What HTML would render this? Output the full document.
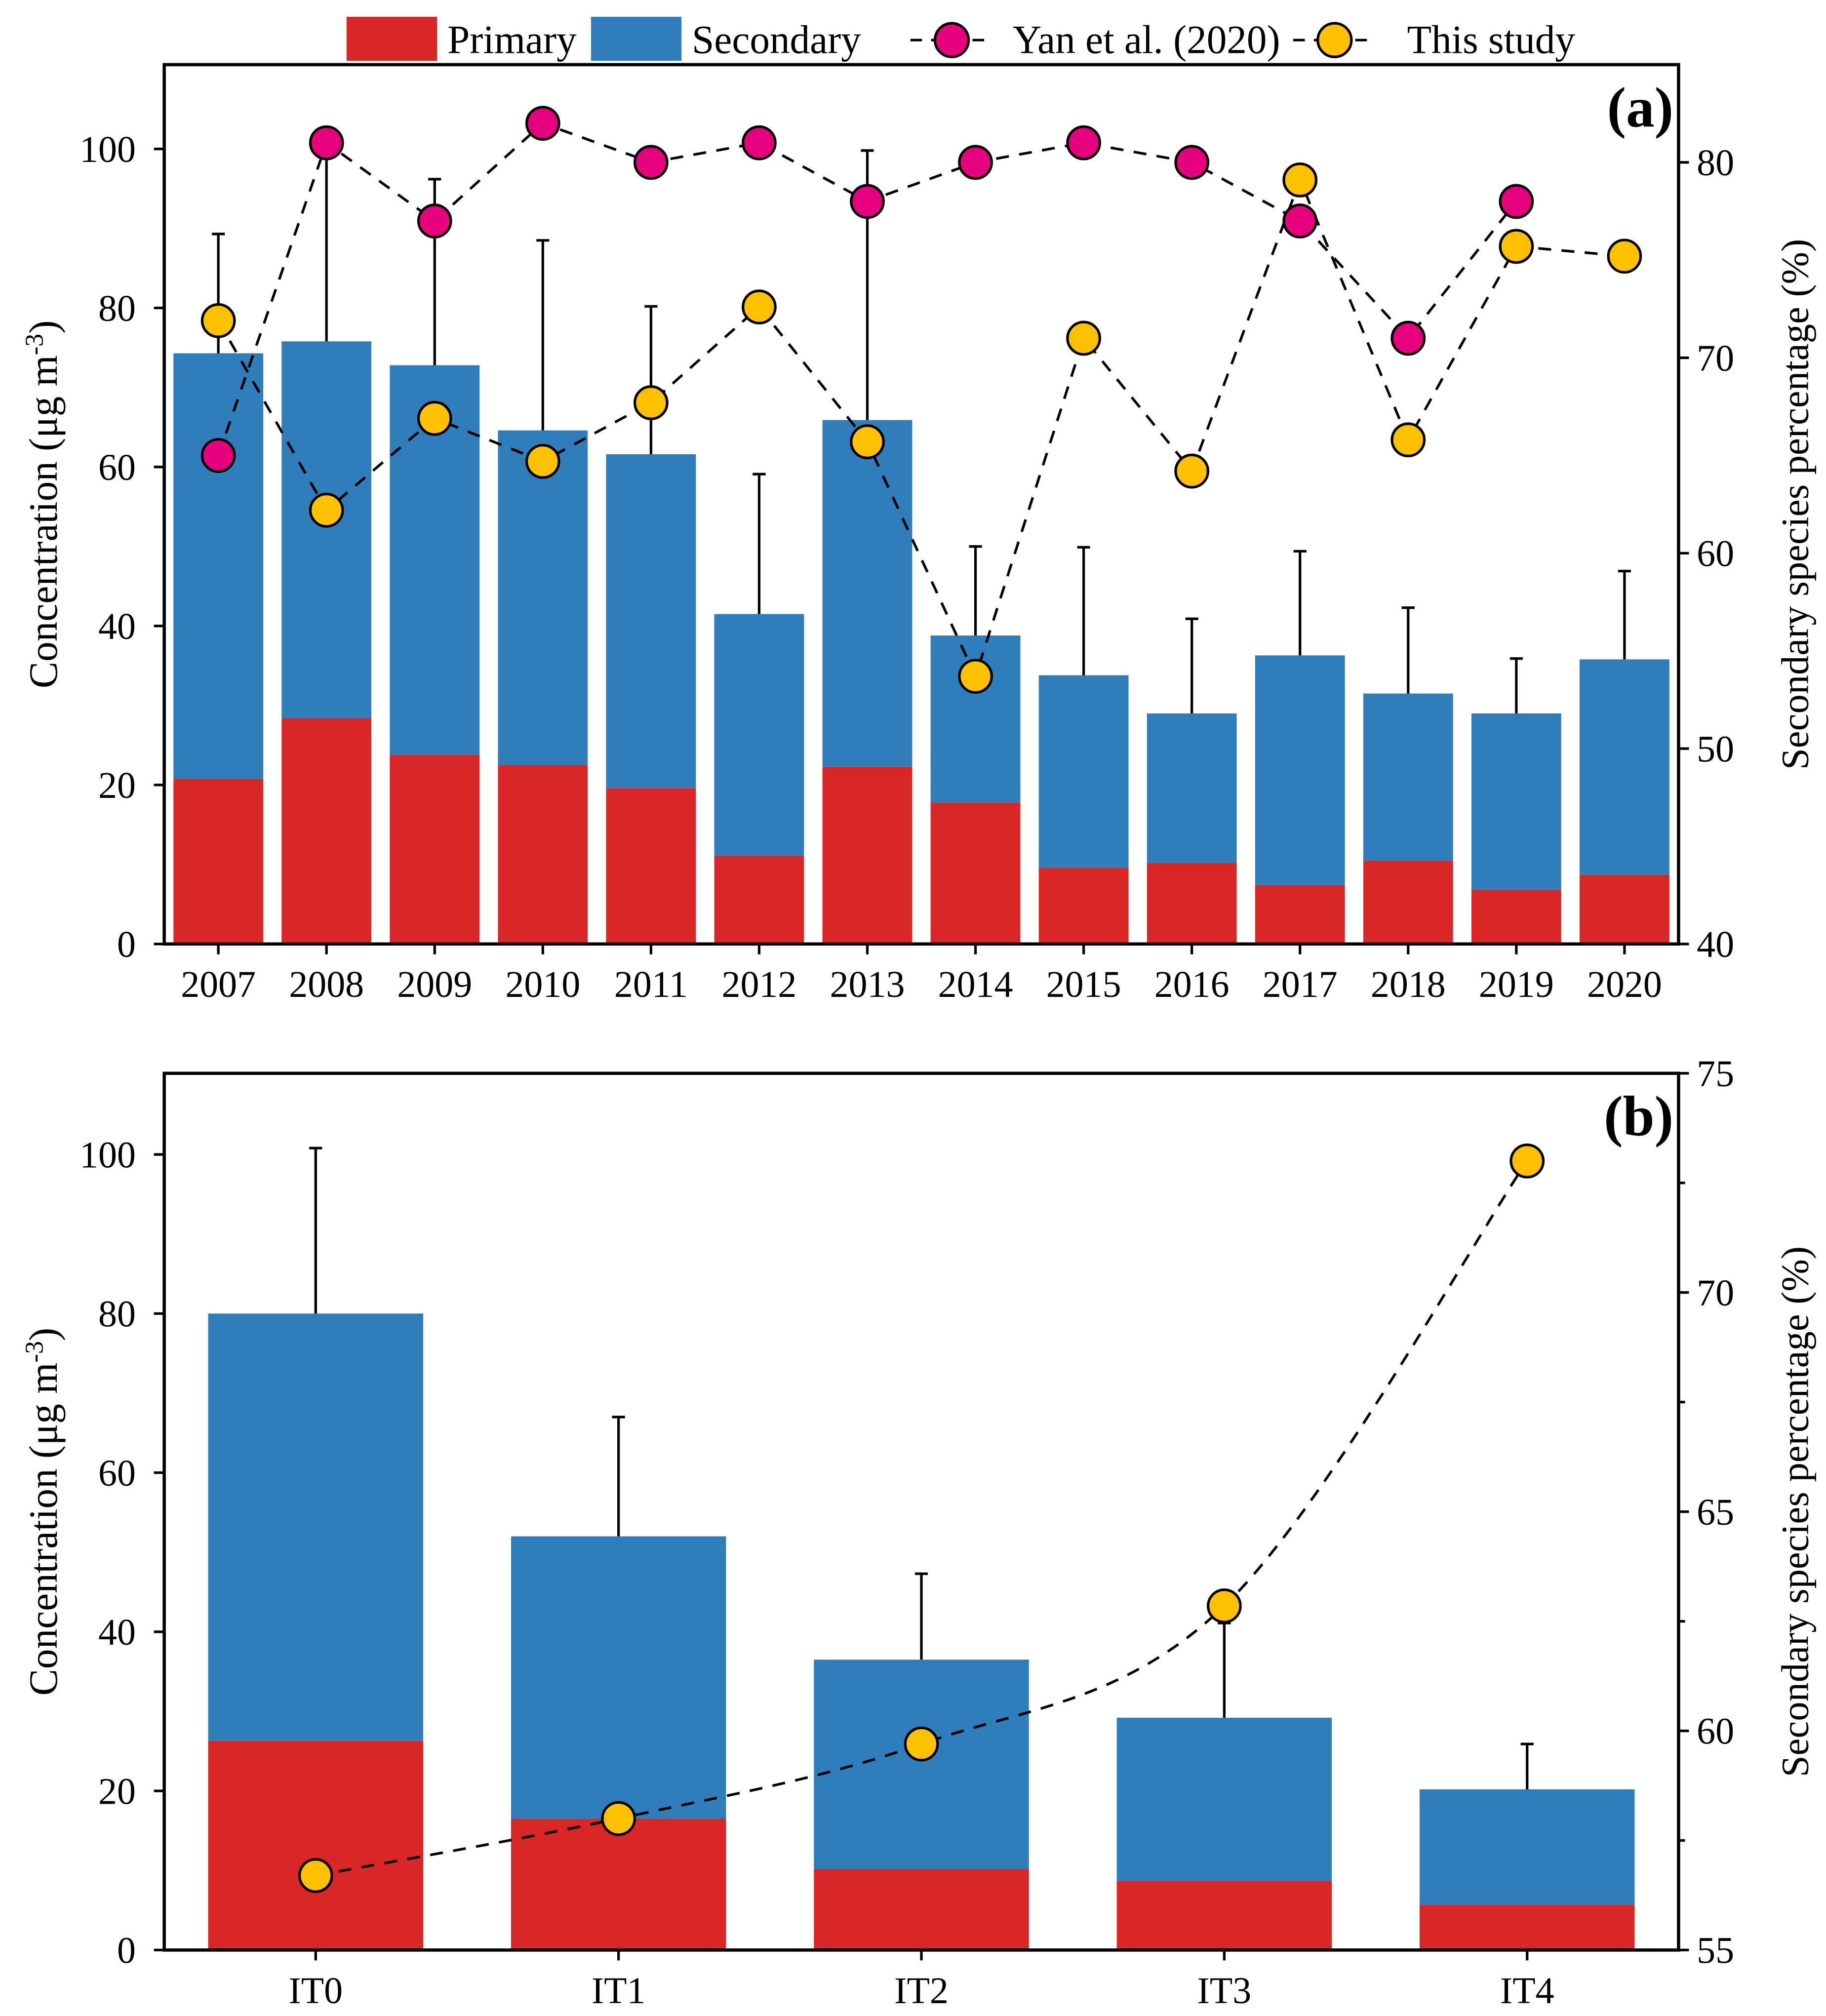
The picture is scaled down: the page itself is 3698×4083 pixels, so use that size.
<!DOCTYPE html>
<html><head><meta charset="utf-8"><style>
html,body{margin:0;padding:0;background:#fff}
svg{display:block}
text{font-family:"Liberation Serif",serif;fill:#000}
</style></head><body>
<svg id="chart" width="3698" height="4083" viewBox="0 0 1412 1559" xmlns="http://www.w3.org/2000/svg">
<g id="legend">
<rect x="268" y="13" width="70" height="34" fill="#d92626"/>
<text x="346" y="41" font-size="31">Primary</text>
<rect x="457" y="13" width="70" height="34" fill="#2f7ebb"/>
<text x="535" y="41" font-size="31">Secondary</text>
<line x1="704" y1="31" x2="768" y2="31" stroke="#000" stroke-width="2" stroke-dasharray="9,7"/>
<circle cx="736" cy="31" r="13" fill="#e6007e" stroke="#000" stroke-width="2"/>
<text x="783" y="41" font-size="31">Yan et al. (2020)</text>
<line x1="1000" y1="31" x2="1064" y2="31" stroke="#000" stroke-width="2" stroke-dasharray="9,7"/>
<circle cx="1032" cy="31" r="13" fill="#ffc000" stroke="#000" stroke-width="2"/>
<text x="1088" y="41" font-size="31">This study</text>
</g>
</svg>
<script>
const yearsA = ['2007','2008','2009','2010','2011','2012','2013','2014','2015','2016','2017','2018','2019','2020'];
const totalA = [74.3,75.8,72.8,64.6,61.6,41.5,65.9,38.8,33.8,29.0,36.3,31.5,29.0,35.8];
const primaryA = [20.8,28.4,23.8,22.5,19.6,11.1,22.3,17.8,9.6,10.2,7.4,10.5,6.8,8.7];
const errTopA = [89.3,101,96.2,88.5,80.2,59.1,99.8,50.0,49.9,40.9,49.4,42.3,35.9,46.9];
const yanPctA = [65.0,81.0,77.0,82.0,80.0,81.0,78.0,80.0,81.0,80.0,77.0,71.0,78.0,null];
const studyPctA = [71.9,62.2,66.9,64.7,67.7,72.6,65.7,53.7,71.0,64.2,79.1,65.8,75.7,75.2];
const leftTicksA = [0,20,40,60,80,100];
const rightTicksA = [40,50,60,70,80];

const catsB = ['IT0','IT1','IT2','IT3','IT4'];
const totalB = [80.0,52.0,36.5,29.2,20.2];
const primaryB = [26.3,16.5,10.2,8.7,5.7];
const errTopB = [100.8,67.0,47.3,41.1,25.9];
const studyPctB = [56.7,58.0,59.7,62.85,73.0];
const leftTicksB = [0,20,40,60,80,100];
const rightTicksB = [55,60,65,70,75];

const NS='http://www.w3.org/2000/svg';
const svg=document.getElementById('chart');
function mk(tag,attrs,parent){const e=document.createElementNS(NS,tag);for(const k in attrs)e.setAttribute(k,attrs[k]);(parent||svg).appendChild(e);return e;}

function panel(cfg){
  const g=mk('g',{});
  
  
  const {L,R,T,B}=cfg;
  const yL=v=>B-(v-0)/(cfg.lmax)*(B-T);
  const yR=v=>B-(v-cfg.rmin)/(cfg.rmax-cfg.rmin)*(B-T);
  const step=(R-L)/cfg.cats.length;
  const xc=i=>L+step*(i+0.5);
  const bw=step*cfg.bwf;
  cfg.cats.forEach((c,i)=>{
    const s=mk('rect',{x:xc(i)-bw/2,y:yL(cfg.total[i]),width:bw,height:yL(cfg.primary[i])-yL(cfg.total[i]),fill:'#2f7ebb'},g);
    
    
    const p=mk('rect',{x:xc(i)-bw/2,y:yL(cfg.primary[i]),width:bw,height:B-yL(cfg.primary[i]),fill:'#d92626'},g);
    
    
    const e=mk('path',{d:`M${xc(i)},${yL(cfg.total[i])}V${yL(cfg.errTop[i])}M${xc(i)-5},${yL(cfg.errTop[i])}H${xc(i)+5}`,stroke:'#000','stroke-width':2,fill:'none'},g);
    
    
  });
  cfg.series.forEach(sr=>{
    const pts=[];sr.vals.forEach((v,i)=>{if(v!=null)pts.push([xc(i),yR(v)]);});
    let d;
    if(sr.smooth){
      d=`M${pts[0][0]},${pts[0][1]}`;
      for(let i=0;i<pts.length-1;i++){
        const p0=pts[Math.max(0,i-1)],p1=pts[i],p2=pts[i+1],p3=pts[Math.min(pts.length-1,i+2)];
        const c1=[p1[0]+(p2[0]-p0[0])/6,p1[1]+(p2[1]-p0[1])/6],c2=[p2[0]-(p3[0]-p1[0])/6,p2[1]-(p3[1]-p1[1])/6];
        d+=`C${c1[0]},${c1[1]} ${c2[0]},${c2[1]} ${p2[0]},${p2[1]}`;
      }
    } else d='M'+pts.map(p=>p.join(',')).join('L');
    const l=mk('path',{d,stroke:'#000','stroke-width':2,fill:'none','stroke-dasharray':'10,8'},g);
    
    
  });
  cfg.series.forEach(sr=>{
    sr.vals.forEach((v,i)=>{if(v==null)return;
      const c=mk('circle',{cx:xc(i),cy:yR(v),r:12.5,fill:sr.color,stroke:'#000','stroke-width':2},g);
      
      
    });
  });
  const f=mk('rect',{x:L,y:T,width:R-L,height:B-T,fill:'none',stroke:'#000','stroke-width':2.5},g);
  
  
  cfg.lticks.forEach(v=>{
    mk('line',{x1:L-8,x2:L,y1:yL(v),y2:yL(v),stroke:'#000','stroke-width':2},g);
    const t=mk('text',{x:L-22,y:yL(v)+10,'font-size':29,'text-anchor':'end'},g);t.textContent=v;
    
    
  });
  cfg.rticks.forEach(v=>{
    mk('line',{x1:R,x2:R+8,y1:yR(v),y2:yR(v),stroke:'#000','stroke-width':2},g);
    const t=mk('text',{x:R+14,y:yR(v)+10,'font-size':29},g);t.textContent=v;
    
    
  });
  (cfg.rminor||[]).forEach(v=>mk('line',{x1:R,x2:R+5,y1:yR(v),y2:yR(v),stroke:'#000','stroke-width':2},g));
  cfg.cats.forEach((c,i)=>{
    mk('line',{x1:xc(i),x2:xc(i),y1:B,y2:B+8,stroke:'#000','stroke-width':2},g);
    const t=mk('text',{x:xc(i),y:B+41,'font-size':29,'text-anchor':'middle'},g);t.textContent=c;
    
    
  });
  const my=(T+B)/2;
  const lt=mk('text',{x:0,y:0,'font-size':31,'text-anchor':'middle',transform:`translate(44,${my}) rotate(-90)`},g);
  lt.innerHTML='Concentration (μg m<tspan dy="-11" font-size="20">-3</tspan><tspan dy="11">)</tspan>';
  
  
  const rt=mk('text',{x:0,y:0,'font-size':30,'text-anchor':'middle',transform:`translate(1398,${my}) rotate(-90)`},g);
  rt.textContent='Secondary species percentage (%)';
  
  
  const pl=mk('text',{x:R-4,y:T+48,'font-size':44,'font-weight':'bold','text-anchor':'end'},g);
  pl.textContent=cfg.label;
  
  
}
panel({name:'panel-a',L:127,R:1298,T:50,B:730,lmax:110.6,rmin:40,rmax:85.0,cats:yearsA,total:totalA,primary:primaryA,errTop:errTopA,bwf:0.83,
  series:[{name:'yan',vals:yanPctA,color:'#e6007e'},{name:'this-study',vals:studyPctA,color:'#ffc000'}],
  lticks:leftTicksA,rticks:rightTicksA,label:'(a)'});
panel({name:'panel-b',L:127,R:1298,T:830,B:1508,lmax:110.2,rmin:55,rmax:75,cats:catsB,total:totalB,primary:primaryB,errTop:errTopB,bwf:0.71,
  series:[{name:'this-study',vals:studyPctB,color:'#ffc000',smooth:true}],
  lticks:leftTicksB,rticks:rightTicksB,rminor:[57.5,62.5,67.5,72.5],label:'(b)'});
</script>
</body></html>
